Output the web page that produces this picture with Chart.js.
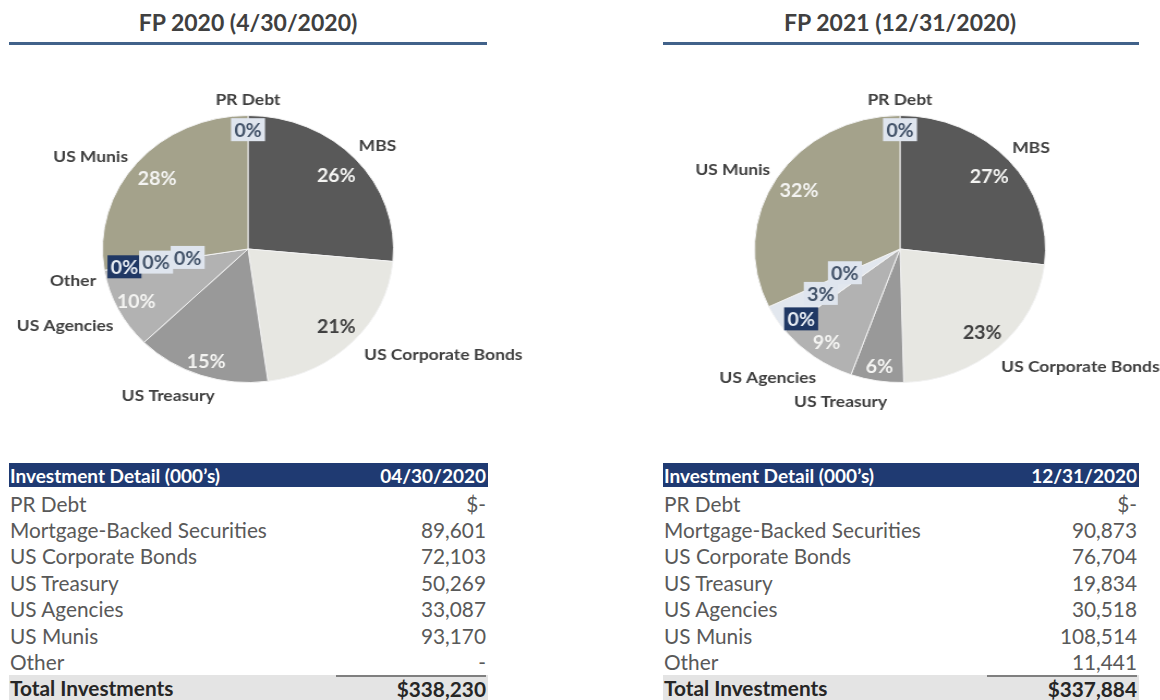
<!DOCTYPE html>
<html>
<head>
<meta charset="utf-8">
<script src="https://cdn.jsdelivr.net/npm/chart.js@4.4.0/dist/chart.umd.min.js"></script>
<style>
html, body { margin: 0; padding: 0; background: #fff; overflow: hidden; }
body { width: 1160px; height: 700px; position: relative; font-family: Lato, 'Open Sans', sans-serif; }
.title { position: absolute; top: 7px; width: 496px; line-height: 30px; text-align: center; font-weight: 700; font-size: 23px; color: #404040; }
.rule { position: absolute; top: 42px; height: 3px; background: #41628a; }
.pie { position: absolute; top: 79px; transform: scaleX(1.09); transform-origin: 50% 50%; }
.tbl { position: absolute; top: 463px; height: 237px; }
.hdr { position: absolute; left: 0; right: 0; top: 0; height: 24px; background: #1f3a72; color: #fff; font-weight: 700; font-size: 19px; display: flex; justify-content: space-between; align-items: center; padding: 0 2px 0 1px; }
.row { position: absolute; left: 0; right: 0; height: 26px; display: flex; justify-content: space-between; align-items: center; font-size: 20.8px; color: #595959; padding: 0 2px 0 1px; }
.row.total { background: #e4e4e4; color: #262626; font-weight: 700; }
.row.total .val { border-top: 2px solid #7f7f7f; width: 150px; text-align: right; height: 24px; line-height: 24px; }
</style>
</head>
<body>

<div class="title" style="left:0">FP 2020 (4/30/2020)</div>
<div class="title" style="left:652px">FP 2021 (12/31/2020)</div>
<div class="rule" style="left:9px; width:478px"></div>
<div class="rule" style="left:663px; width:476px"></div>

<canvas id="pie2020" class="pie" width="540" height="340" style="left:-22px"></canvas>
<canvas id="pie2021" class="pie" width="540" height="340" style="left:630px"></canvas>

<div id="tbl2020" class="tbl" style="left:9px; width:479px"></div>
<div id="tbl2021" class="tbl" style="left:663px; width:476px"></div>

<script>
// pie slices, clockwise from 12 o'clock
const sliceLabels2020 = ['PR Debt', 'MBS', 'US Corporate Bonds', 'US Treasury', 'US Agencies', 'Other', '', '', 'US Munis'];
const sliceLabels2021 = ['PR Debt', 'MBS', 'US Corporate Bonds', 'US Treasury', 'US Agencies', '', '', '', 'US Munis'];
const slices2020 = [0, 89601, 72103, 50269, 33087, 0, 0, 0, 93170];
const slices2021 = [0, 90873, 76704, 19834, 30518, 0, 11441, 0, 108514];

// investment detail tables (000's)
const tableRows = ['PR Debt', 'Mortgage-Backed Securities', 'US Corporate Bonds', 'US Treasury', 'US Agencies', 'US Munis', 'Other'];
const detail2020 = [0, 89601, 72103, 50269, 33087, 93170, 0];
const detail2021 = [0, 90873, 76704, 19834, 30518, 108514, 11441];

// look of each slice and of its % label
const sliceColors = ['#dce3ec', '#595959', '#e7e7e2', '#999999', '#b2b2b2', '#1f3864', '#e2e7ee', '#cfd8e4', '#a4a28b'];
const pctKind = ['box', 'white', 'dark', 'white', 'white', 'navy', 'box', 'box', 'white'];
const pctRadius = [0.89, 0.82, 0.84, 0.89, 0.86, 0.86, 0.64, 0.42, 0.82];
// small hand nudges for the outside names (canvas px), like Excel's best fit
const nudge2020 = [[0, 3], [0, 0], [23, 0], [-13, 3], [0, 8], [2, 8], [0, 0], [0, 0], [-9, 7]];
const nudge2021 = [[0, 3], [0, 0], [20, 5], [-25, 2], [-11, 5], [0, 0], [0, 0], [0, 0], [-3, 2]];

const labelPlugin = {
    id: 'sliceLabels',
    afterDatasetsDraw(chart) {
        const ctx = chart.ctx;
        const meta = chart.getDatasetMeta(0);
        const data = chart.data.datasets[0].data;
        const opts = chart.options.plugins.sliceLabels;
        const total = data.reduce((a, b) => a + b, 0);
        ctx.save();
        ctx.textAlign = 'center';
        ctx.textBaseline = 'middle';
        meta.data.forEach((arc, i) => {
            const p = arc.getProps(['x', 'y', 'startAngle', 'endAngle', 'outerRadius'], true);
            const mid = (p.startAngle + p.endAngle) / 2;
            const c = Math.cos(mid), s = Math.sin(mid);

            // percentage
            const pct = Math.round(data[i] / total * 100) + '%';
            const r = p.outerRadius * pctRadius[i];
            const px = p.x + c * r, py = p.y + s * r;
            ctx.font = 'bold 18px Lato';
            const kind = pctKind[i];
            if (kind === 'box' || kind === 'navy') {
                const w = ctx.measureText(pct).width + 6;
                ctx.fillStyle = kind === 'navy' ? '#203864' : '#dfe5ee';
                ctx.fillRect(px - w / 2, py - 12, w, 23);
                ctx.fillStyle = kind === 'navy' ? '#e8edf4' : '#44546a';
            } else {
                ctx.fillStyle = kind === 'dark' ? '#404040' : '#f4f4f2';
            }
            ctx.fillText(pct, px, py + 1);

            // category name outside
            const name = opts.names[i];
            if (!name) return;
            ctx.font = 'bold 16px Lato';
            const tw = ctx.measureText(name).width;
            const d = p.outerRadius + 10;
            const nx = p.x + c * d + c * tw / 2 + opts.nudge[i][0];
            const ny = p.y + s * d + s * 9 + opts.nudge[i][1];
            ctx.fillStyle = '#404040';
            ctx.fillText(name, nx, ny);
        });
        ctx.restore();
    }
};

function drawPie(id, labels, values, nudge) {
    new Chart(document.getElementById(id), {
        type: 'pie',
        data: {
            labels: labels,
            datasets: [{
                data: values,
                backgroundColor: sliceColors,
                borderColor: '#f2f2f2',
                borderWidth: 1,
                hoverOffset: 0
            }]
        },
        options: {
            responsive: false,
            animation: false,
            devicePixelRatio: 1,
            events: [],
            layout: { padding: { left: 136, right: 136, top: 36, bottom: 36 } },
            plugins: {
                legend: { display: false },
                tooltip: { enabled: false },
                sliceLabels: { names: labels, nudge: nudge }
            }
        },
        plugins: [labelPlugin]
    });
}

function fmt(v, i) {
    if (v === 0) return i === 0 ? '$-' : '-';
    return (i === 0 ? '$' : '') + v.toLocaleString('en-US');
}

function buildTable(id, dateText, values) {
    const el = document.getElementById(id);
    let html = '<div class="hdr"><span>Investment Detail (000\u2019s)</span><span>' + dateText + '</span></div>';
    tableRows.forEach((name, i) => {
        html += '<div class="row" style="top:' + (27 + i * 26.4) + 'px"><span>' + name + '</span><span>' + fmt(values[i], i) + '</span></div>';
    });
    const total = values.reduce((a, b) => a + b, 0);
    html += '<div class="row total" style="top:' + (27 + 7 * 26.4) + 'px"><span>Total Investments</span><span class="val">$' + total.toLocaleString('en-US') + '</span></div>';
    el.innerHTML = html;
}

drawPie('pie2020', sliceLabels2020, slices2020, nudge2020);
drawPie('pie2021', sliceLabels2021, slices2021, nudge2021);
buildTable('tbl2020', '04/30/2020', detail2020);
buildTable('tbl2021', '12/31/2020', detail2021);
</script>
</body>
</html>
